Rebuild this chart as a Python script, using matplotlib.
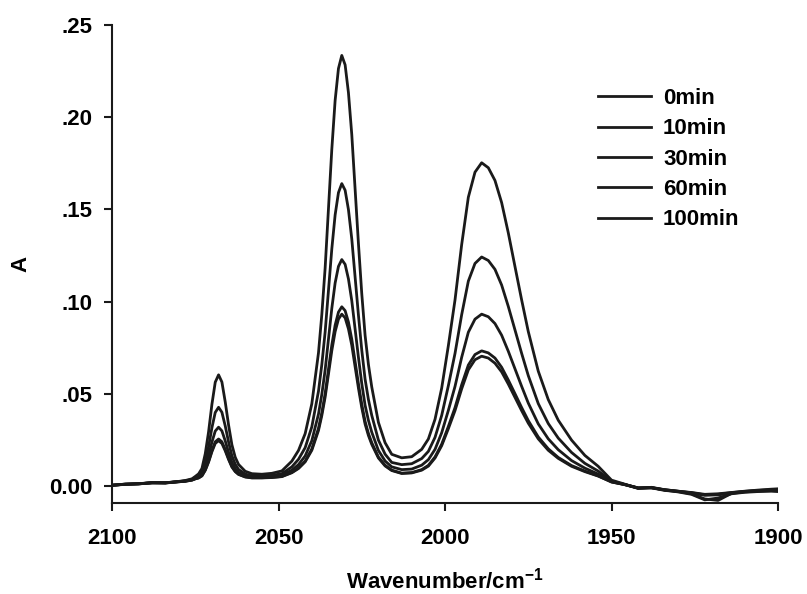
import matplotlib
matplotlib.use('Agg')
import matplotlib.pyplot as plt
from matplotlib.ticker import FuncFormatter

plt.rcParams['font.family'] = ['Liberation Sans', 'DejaVu Sans']
plt.rcParams['font.weight'] = 'bold'
plt.rcParams['mathtext.fontset'] = 'custom'
plt.rcParams['mathtext.rm'] = 'Liberation Sans:bold'
plt.rcParams['mathtext.default'] = 'rm'

# wavenumber grid (cm-1)
wavenumber = [2100, 2096, 2092, 2088, 2084, 2080, 2078, 2076,
              2075, 2074, 2073, 2072, 2071, 2070, 2069, 2068, 2067, 2066, 2065, 2064, 2063, 2062, 2060, 2058,
              2055, 2052, 2049, 2046, 2044, 2042, 2040, 2038,
              2037, 2036, 2035, 2034, 2033, 2032, 2031, 2030, 2029, 2028, 2027, 2026, 2025, 2024, 2023, 2022, 2020, 2018, 2016,
              2013, 2010, 2007, 2005,
              2003, 2001, 1999, 1997, 1995, 1993, 1991, 1989, 1987, 1985, 1983, 1981, 1979, 1977, 1975, 1972, 1969, 1966, 1962, 1958, 1954, 1950,
              1946, 1942, 1938, 1934, 1930, 1926, 1922, 1918, 1914, 1910, 1906, 1902, 1900]

a_0min = [0.0004, 0.0010, 0.0012, 0.0018, 0.0017, 0.0025, 0.0030, 0.0039,
          0.0052, 0.0066, 0.0095, 0.0175, 0.0294, 0.0443, 0.0563, 0.0603, 0.0564, 0.0456, 0.0331, 0.0224, 0.0156, 0.0117, 0.0080, 0.0067,
          0.0064, 0.0069, 0.0082, 0.0135, 0.0193, 0.0284, 0.0446, 0.0722,
          0.0929, 0.1182, 0.1504, 0.1825, 0.2091, 0.2264, 0.2335, 0.2284, 0.2133, 0.1906, 0.1610, 0.1315, 0.1043, 0.0817, 0.0659, 0.0537, 0.0345, 0.0235, 0.0172,
          0.0153, 0.0159, 0.0199, 0.0255,
          0.0362, 0.0531, 0.0761, 0.1009, 0.1309, 0.1566, 0.1702, 0.1753, 0.1726, 0.1657, 0.1537, 0.1373, 0.1191, 0.1010, 0.0838, 0.0623, 0.0469, 0.0357, 0.0249, 0.0166, 0.0107, 0.0032,
          0.0010, -0.0012, -0.0008, -0.0022, -0.0032, -0.0045, -0.0075, -0.0065, -0.0042, -0.0034, -0.0030, -0.0028, -0.0030]

a_10min = [0.0005, 0.0009, 0.0013, 0.0017, 0.0018, 0.0024, 0.0028, 0.0036,
           0.0046, 0.0055, 0.0075, 0.0130, 0.0213, 0.0316, 0.0399, 0.0427, 0.0400, 0.0326, 0.0239, 0.0164, 0.0118, 0.0090, 0.0065, 0.0055,
           0.0054, 0.0058, 0.0067, 0.0104, 0.0145, 0.0208, 0.0321, 0.0514,
           0.0658, 0.0835, 0.1060, 0.1285, 0.1470, 0.1591, 0.1640, 0.1604, 0.1499, 0.1340, 0.1133, 0.0927, 0.0737, 0.0579, 0.0469, 0.0383, 0.0249, 0.0173, 0.0128,
           0.0116, 0.0121, 0.0149, 0.0188,
           0.0264, 0.0383, 0.0544, 0.0719, 0.0929, 0.1111, 0.1207, 0.1242, 0.1223, 0.1175, 0.1090, 0.0974, 0.0847, 0.0720, 0.0599, 0.0447, 0.0339, 0.0260, 0.0182, 0.0123, 0.0081, 0.0027,
           0.0008, -0.0010, -0.0010, -0.0024, -0.0030, -0.0042, -0.0070, -0.0078, -0.0040, -0.0032, -0.0027, -0.0025, -0.0026]

a_30min = [0.0003, 0.0011, 0.0011, 0.0019, 0.0016, 0.0024, 0.0027, 0.0034,
           0.0041, 0.0048, 0.0063, 0.0103, 0.0163, 0.0238, 0.0298, 0.0319, 0.0299, 0.0245, 0.0182, 0.0128, 0.0094, 0.0074, 0.0056, 0.0049,
           0.0048, 0.0051, 0.0058, 0.0086, 0.0116, 0.0163, 0.0246, 0.0390,
           0.0497, 0.0629, 0.0796, 0.0963, 0.1101, 0.1191, 0.1228, 0.1202, 0.1123, 0.1005, 0.0851, 0.0698, 0.0556, 0.0438, 0.0356, 0.0292, 0.0193, 0.0136, 0.0104,
           0.0089, 0.0092, 0.0113, 0.0143,
           0.0199, 0.0289, 0.0410, 0.0540, 0.0698, 0.0834, 0.0905, 0.0932, 0.0918, 0.0881, 0.0818, 0.0731, 0.0636, 0.0541, 0.0450, 0.0337, 0.0256, 0.0197, 0.0138, 0.0097, 0.0065, 0.0024,
           0.0008, -0.0013, -0.0007, -0.0020, -0.0028, -0.0038, -0.0050, -0.0048, -0.0038, -0.0030, -0.0026, -0.0023, -0.0022]

a_60min = [0.0004, 0.0009, 0.0012, 0.0017, 0.0018, 0.0023, 0.0026, 0.0032,
           0.0039, 0.0044, 0.0056, 0.0087, 0.0134, 0.0192, 0.0240, 0.0255, 0.0240, 0.0198, 0.0149, 0.0106, 0.0080, 0.0064, 0.0050, 0.0045,
           0.0045, 0.0047, 0.0052, 0.0074, 0.0098, 0.0135, 0.0201, 0.0313,
           0.0397, 0.0501, 0.0632, 0.0764, 0.0872, 0.0943, 0.0972, 0.0951, 0.0889, 0.0796, 0.0675, 0.0554, 0.0443, 0.0350, 0.0285, 0.0235, 0.0157, 0.0113, 0.0086,
           0.0070, 0.0073, 0.0089, 0.0112,
           0.0158, 0.0227, 0.0323, 0.0425, 0.0549, 0.0656, 0.0713, 0.0733, 0.0722, 0.0694, 0.0644, 0.0575, 0.0501, 0.0426, 0.0355, 0.0266, 0.0202, 0.0155, 0.0111, 0.0081, 0.0055, 0.0022,
           0.0007, -0.0011, -0.0009, -0.0021, -0.0029, -0.0036, -0.0048, -0.0045, -0.0036, -0.0029, -0.0024, -0.0020, -0.0018]

a_100min = [0.0005, 0.0010, 0.0013, 0.0018, 0.0017, 0.0023, 0.0026, 0.0032,
            0.0039, 0.0044, 0.0055, 0.0085, 0.0130, 0.0186, 0.0231, 0.0246, 0.0231, 0.0191, 0.0144, 0.0103, 0.0078, 0.0063, 0.0049, 0.0044,
            0.0044, 0.0046, 0.0051, 0.0072, 0.0095, 0.0131, 0.0194, 0.0301,
            0.0382, 0.0482, 0.0607, 0.0734, 0.0837, 0.0905, 0.0932, 0.0912, 0.0852, 0.0764, 0.0647, 0.0531, 0.0425, 0.0336, 0.0274, 0.0226, 0.0152, 0.0109, 0.0084,
            0.0068, 0.0071, 0.0086, 0.0108,
            0.0152, 0.0219, 0.0311, 0.0409, 0.0527, 0.0630, 0.0685, 0.0704, 0.0694, 0.0666, 0.0619, 0.0553, 0.0481, 0.0409, 0.0341, 0.0256, 0.0194, 0.0150, 0.0107, 0.0078, 0.0054, 0.0022,
            0.0008, -0.0010, -0.0010, -0.0020, -0.0028, -0.0035, -0.0045, -0.0042, -0.0035, -0.0028, -0.0022, -0.0017, -0.0015]

labels = ['0min', '10min', '30min', '60min', '100min']
series = [a_0min, a_10min, a_30min, a_60min, a_100min]

x_ticks = [2100, 2050, 2000, 1950, 1900]
y_ticks = [0.0, 0.05, 0.10, 0.15, 0.20, 0.25]

fig = plt.figure(figsize=(8.07, 5.94), dpi=100)
ax = fig.add_axes([0.1388, 0.1532, 0.8253, 0.8047])

for lab, ys in zip(labels, series):
    ax.plot(wavenumber, ys, color='#1a1a1a', lw=2.0, label=lab, solid_joinstyle='round')

ax.set_xlim(2100, 1900)
ax.set_ylim(-0.0092, 0.25)
ax.set_xticks(x_ticks)
ax.set_yticks(y_ticks)

def ylab(v, pos):
    if abs(v) < 1e-9:
        return '0.00'
    return ('%.2f' % v)[1:]

ax.yaxis.set_major_formatter(FuncFormatter(ylab))
ax.tick_params(direction='out', length=6, width=1.5, labelsize=16, color='#1a1a1a')
ax.tick_params(axis='x', pad=12)
ax.tick_params(axis='y', pad=8)
for s in ['top', 'right']:
    ax.spines[s].set_visible(False)
for s in ['left', 'bottom']:
    ax.spines[s].set_linewidth(1.5)
    ax.spines[s].set_color('#1a1a1a')

fig.text(445 / 807, 1 - 581 / 594, r'Wavenumber/cm$^{-1}$', ha='center', va='center',
         fontsize=16, fontweight='bold')
fig.text(21 / 807, 1 - 264 / 594, 'A', ha='center', va='center', rotation=90,
         fontsize=16, fontweight='bold')

ax.legend(loc='upper left', bbox_to_anchor=(598 / 807, 1 - 88 / 594),
          bbox_transform=fig.transFigure, frameon=False, fontsize=16,
          handlelength=2.39, handletextpad=0.54, labelspacing=0.42,
          borderpad=0, borderaxespad=0)

fig.savefig('out.png', dpi=100)
